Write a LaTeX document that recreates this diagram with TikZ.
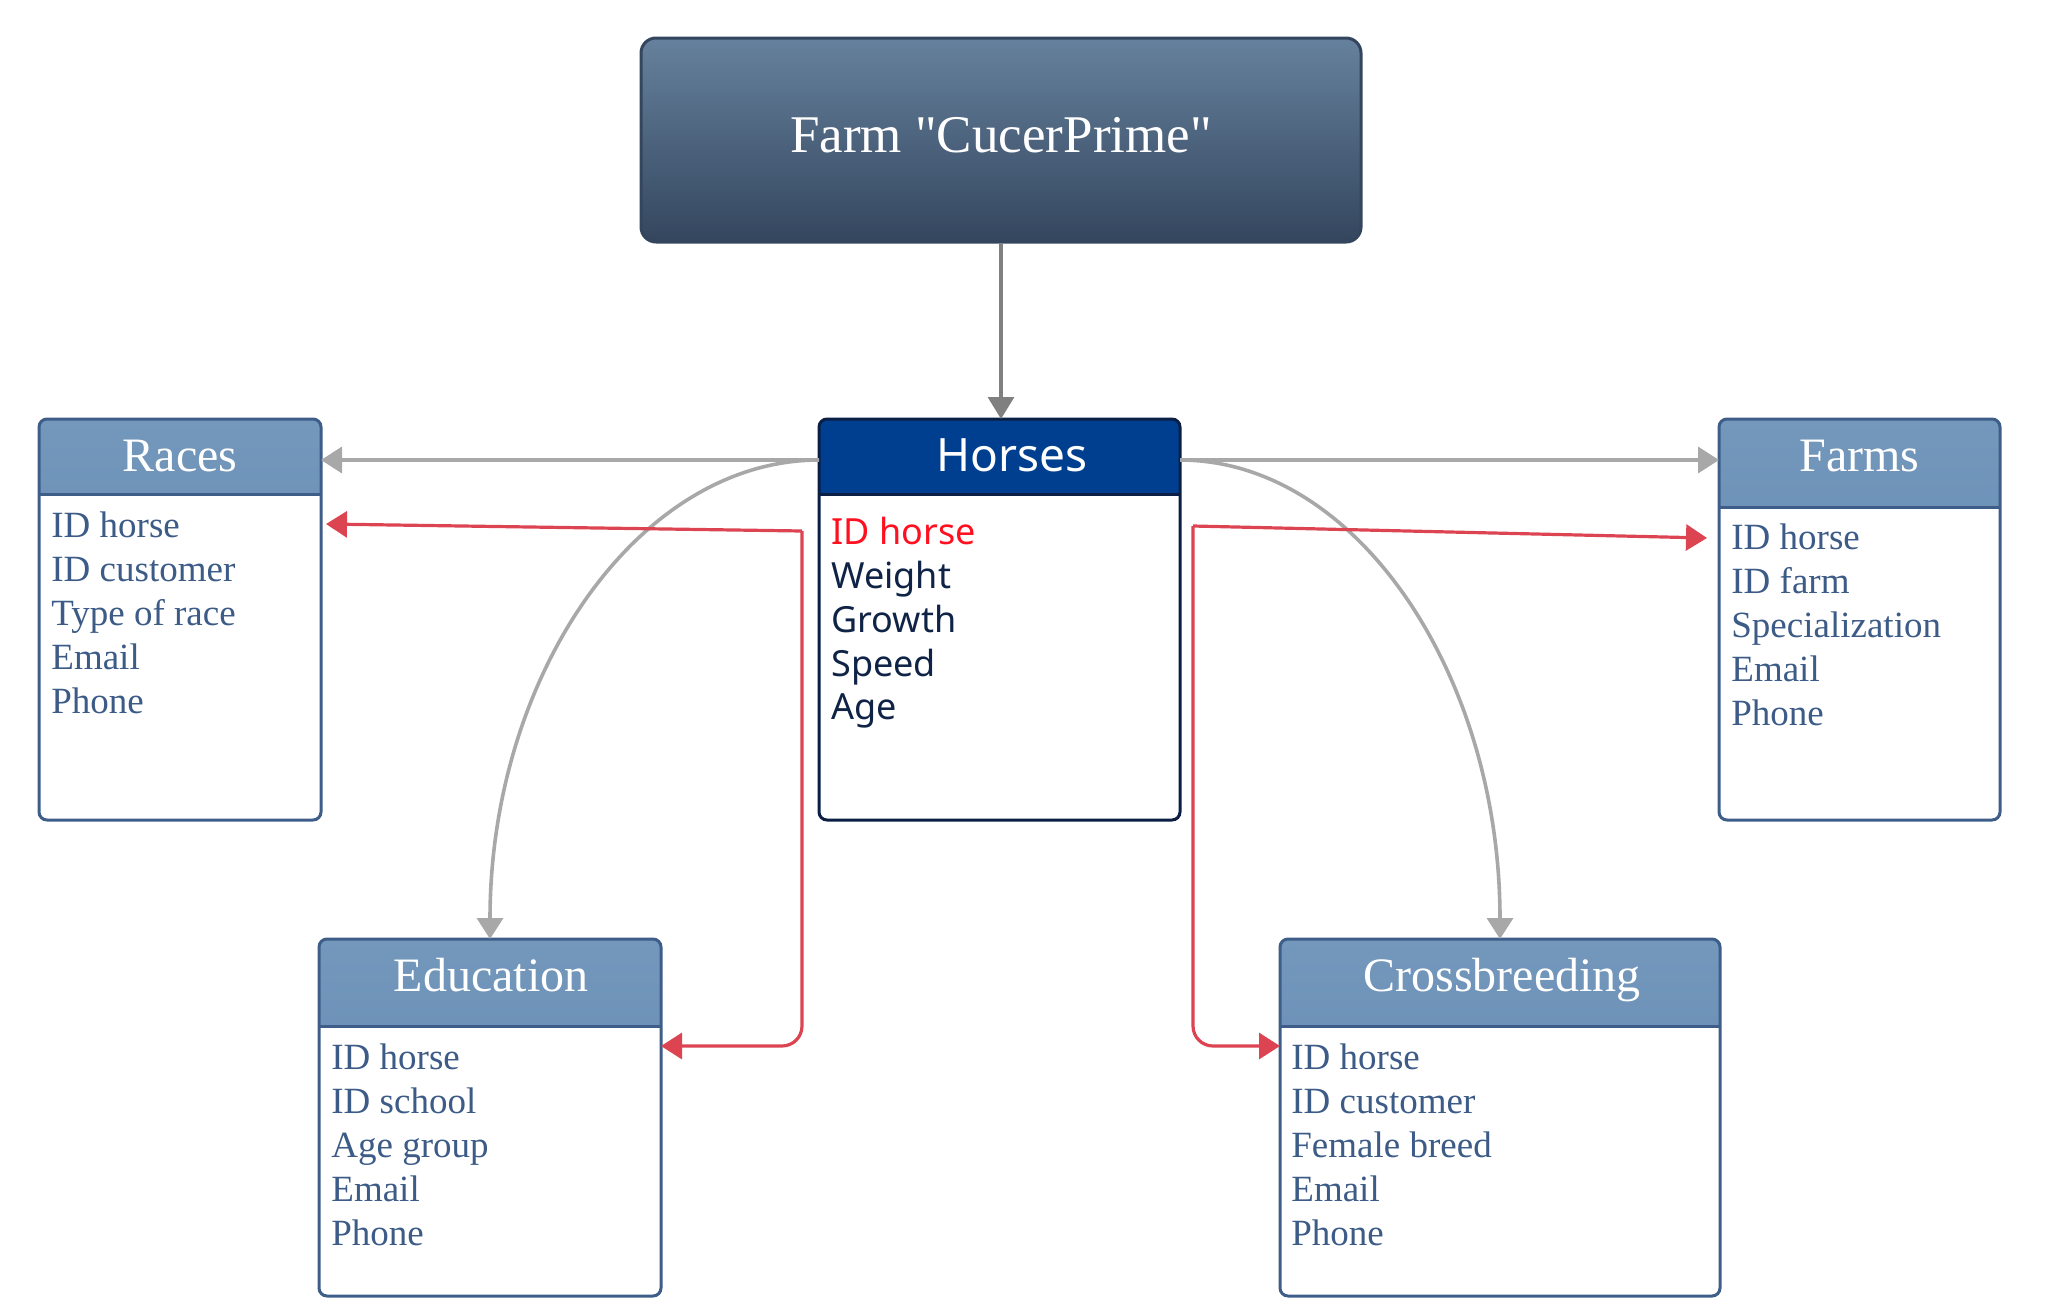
\documentclass[tikz,border=0pt]{standalone}
\usepackage{fontspec}
\setmainfont{Liberation Serif}
\newfontfamily\notofont{Noto Sans}
\usetikzlibrary{arrows.meta}
\definecolor{farmtop}{HTML}{66819D}
\definecolor{farmbot}{HTML}{34465E}
\definecolor{farmline}{HTML}{34465E}
\definecolor{hdrtop}{HTML}{7398BC}
\definecolor{hdrbot}{HTML}{6183AB}
\definecolor{tblline}{HTML}{3E5E89}
\definecolor{tbltext}{HTML}{3C5B87}
\definecolor{horsehdr}{HTML}{003F8F}
\definecolor{horseline}{HTML}{0B1F45}
\definecolor{horsetext}{HTML}{0F2347}
\definecolor{idred}{HTML}{FF1020}
\definecolor{linkgrey}{HTML}{A8A8A8}
\definecolor{topgrey}{HTML}{808080}
\definecolor{linkred}{HTML}{DC4452}
\begin{document}
\begin{tikzpicture}[x=0.5pt,y=-0.5pt,
  tbl/.style n args={4}{draw=#4, line width=1.5pt, rounded corners=4pt, fill=white,
    inner sep=0pt, outer sep=0pt, minimum width=#1, minimum height=#2},
  hdrshade/.style={path picture={
      \shade[sharp corners,top color=hdrtop,bottom color=hdrbot]
        (path picture bounding box.north west) rectangle ([yshift=-#1]path picture bounding box.north east);
      \draw[sharp corners,tblline,line width=1.5pt]
        ([yshift=-#1]path picture bounding box.north west) -- ([yshift=-#1]path picture bounding box.north east);}},
  hdrsolid/.style={path picture={
      \fill[sharp corners,horsehdr]
        (path picture bounding box.north west) rectangle ([yshift=-#1]path picture bounding box.north east);
      \draw[sharp corners,horseline,line width=1.5pt]
        ([yshift=-#1]path picture bounding box.north west) -- ([yshift=-#1]path picture bounding box.north east);}},
  ttitle/.style={font=\fontsize{24}{28}\selectfont, text=white, anchor=base, inner sep=0pt},
  tbody/.style={font=\fontsize{18.5}{22}\selectfont, text=tbltext, anchor=base west, inner sep=0pt},
  htitle/.style={font=\notofont\fontsize{23}{27}\selectfont, text=white, anchor=base, inner sep=0pt},
  hbody/.style={font=\notofont\fontsize{18}{22}\selectfont, text=horsetext, anchor=base west, inner sep=0pt},
  greyarr/.style={draw=linkgrey, line width=1.8pt, -{Triangle[length=10.5pt,width=13pt]}},
  redarr/.style={draw=linkred, line width=1.6pt, -{Triangle[length=10.5pt,width=13pt]}},
  toparr/.style={draw=topgrey, line width=1.6pt, -{Triangle[length=11pt,width=13pt]}}
]
\useasboundingbox (0,0) rectangle (2060,1306);

% Farm box
\node[draw=farmline, line width=1.5pt, rounded corners=7.5pt, top color=farmtop, bottom color=farmbot,
      minimum width=360pt, minimum height=102pt, inner sep=0pt] (farm) at (1001,140) {};
\node[font=\fontsize{26.5}{30}\selectfont, text=white, anchor=base, inner sep=0pt] (farmtitle) at (1001,152) {Farm \textquotedbl CucerPrime\textquotedbl};

% Horses
\node[tbl={180.5pt}{200.5pt}{4}{horseline}, hdrsolid=37.5pt] (horses) at (999.5,619.5) {};
\node[htitle] (horsestitle) at (1012,471) {Horses};
\node[hbody, text=idred] (h1) at (831,544) {ID horse};
\node[hbody] (h2) at (831,588) {Weight};
\node[hbody] (h3) at (831,632) {Growth};
\node[hbody] (h4) at (831,676) {Speed};
\node[hbody] (h5) at (831,719) {Age};

% Races
\node[tbl={141pt}{200.5pt}{4}{tblline}, hdrshade=37.5pt] (races) at (180,619.5) {};
\node[ttitle] (racestitle) at (180,471) {Races};
\node[tbody] (r1) at (51,537) {ID horse};
\node[tbody] (r2) at (51,581) {ID customer};
\node[tbody] (r3) at (51,625) {Type of race};
\node[tbody] (r4) at (51,669) {Email};
\node[tbody] (r5) at (51,713) {Phone};

% Farms
\node[tbl={140.5pt}{200.5pt}{4}{tblline}, hdrshade=44pt] (farms) at (1859.5,619.5) {};
\node[ttitle] (farmstitle) at (1859.5,471) {Farms};
\node[tbody] (f1) at (1731,549) {ID horse};
\node[tbody] (f2) at (1731,593) {ID farm};
\node[tbody] (f3) at (1731,637) {Specialization};
\node[tbody] (f4) at (1731,681) {Email};
\node[tbody] (f5) at (1731,725) {Phone};

% Education
\node[tbl={171pt}{178.5pt}{4}{tblline}, hdrshade=43.5pt] (edu) at (490,1117.5) {};
\node[ttitle] (edutitle) at (491,991) {Education};
\node[tbody] (e1) at (331,1069) {ID horse};
\node[tbody] (e2) at (331,1113) {ID school};
\node[tbody] (e3) at (331,1157) {Age group};
\node[tbody] (e4) at (331,1201) {Email};
\node[tbody] (e5) at (331,1245) {Phone};

% Crossbreeding
\node[tbl={220pt}{178.5pt}{4}{tblline}, hdrshade=43.5pt] (cross) at (1500,1117.5) {};
\node[ttitle] (crosstitle) at (1502,991) {Crossbreeding};
\node[tbody] (c1) at (1291,1069) {ID horse};
\node[tbody] (c2) at (1291,1113) {ID customer};
\node[tbody] (c3) at (1291,1157) {Female breed};
\node[tbody] (c4) at (1291,1201) {Email};
\node[tbody] (c5) at (1291,1245) {Phone};

% connector points
\coordinate (hL) at (819,460);
\coordinate (hR) at (1180,460);
\coordinate (rl) at (802,531);
\coordinate (rr) at (1193,526);
\coordinate (racesIn) at (326,524);
\coordinate (eduIn) at (661,1046);
\coordinate (farmsIn) at (1707,538);
\coordinate (crossIn) at (1280,1046);

% connectors
\draw[toparr] (farm.south) -- (farm.south |- horses.north);
\draw[greyarr] (hL) -- (races.east |- hL);
\draw[greyarr] (hR) -- (farms.west |- hR);
\draw[greyarr] (hL) .. controls +(-181,0) and +(0,-264) .. (edu.north);
\draw[greyarr] (hR) .. controls +(177,0) and +(0,-264) .. (cross.north);
\draw[redarr] (rl) -- (racesIn);
\draw[redarr, rounded corners=10pt] (rl) |- (eduIn);
\draw[redarr] (rr) -- (farmsIn);
\draw[redarr, rounded corners=10pt] (rr) |- (crossIn);
\end{tikzpicture}
\end{document}
